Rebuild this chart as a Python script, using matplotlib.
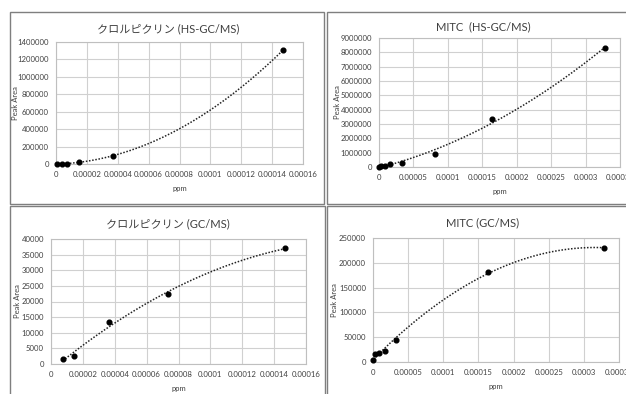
import matplotlib
matplotlib.use("Agg")
import matplotlib.pyplot as plt
import numpy as np
from matplotlib.patches import Rectangle
from matplotlib.ticker import FuncFormatter, MultipleLocator

plt.rcParams['font.family'] = ['Lato', 'Noto Sans CJK JP', 'DejaVu Sans']

# --- data ---
cp_hs_ppm = [0.0000007, 0.0000037, 0.0000073, 0.0000147, 0.0000367, 0.000147]
cp_hs_area = [500, 1500, 4000, 18000, 95000, 1305000]

mitc_hs_ppm = [0.0000004, 0.0000033, 0.0000082, 0.0000164, 0.0000328, 0.000082, 0.000164, 0.000328]
mitc_hs_area = [20000, 60000, 100000, 180000, 280000, 900000, 3330000, 8300000]

cp_gc_ppm = [0.0000073, 0.0000147, 0.0000367, 0.0000733, 0.000147]
cp_gc_area = [1500, 2700, 13300, 22500, 37000]

mitc_gc_ppm = [0.0000004, 0.0000033, 0.0000082, 0.0000164, 0.0000328, 0.000164, 0.000328]
mitc_gc_area = [5000, 16000, 18000, 23000, 43500, 181000, 230000]

titles = ['クロルピクリン (HS-GC/MS)', 'MITC  (HS-GC/MS)', 'クロルピクリン (GC/MS)', 'MITC (GC/MS)']

W, H = 626, 394
fig = plt.figure(figsize=(W / 100, H / 100), dpi=100)
fig.patch.set_facecolor('white')


def ax_px(x0, y0, x1, y1):
    return fig.add_axes([x0 / W, 1 - y1 / H, (x1 - x0) / W, (y1 - y0) / H])


def box(x0, y0, x1, y1):
    fig.patches.append(Rectangle((x0 / W, 1 - y1 / H), (x1 - x0) / W, (y1 - y0) / H,
                                 transform=fig.transFigure, fill=False,
                                 edgecolor='#7f7f7f', lw=1.0, zorder=0))


box(10, 12, 324, 204)
box(327, 12, 640, 204)
box(10, 206, 325, 400)
box(327, 206, 640, 400)


def fmt_x(v, pos):
    if abs(v) < 1e-12:
        return '0'
    return ('%.5f' % v).rstrip('0').rstrip('.')


def fmt_y(v, pos):
    return '%d' % round(v)


def panel(rect, x, y, xmax, xstep, ymax, ystep, title, tx, ty, xlab_y, ylab_x):
    ax = ax_px(*rect)
    ax.set_xlim(0, xmax)
    ax.set_ylim(0, ymax)
    ax.xaxis.set_major_locator(MultipleLocator(xstep))
    ax.yaxis.set_major_locator(MultipleLocator(ystep))
    ax.xaxis.set_major_formatter(FuncFormatter(fmt_x))
    ax.yaxis.set_major_formatter(FuncFormatter(fmt_y))
    ax.grid(True, color='#d0d0d0', lw=0.8)
    ax.set_axisbelow(True)
    for s in ax.spines.values():
        s.set_color('#bfbfbf')
        s.set_linewidth(0.8)
    ax.tick_params(length=0, labelsize=5.6, colors='#404040', pad=5)
    for lab in ax.get_xticklabels() + ax.get_yticklabels():
        lab.set_clip_on(False)
    # trendline (2nd-order polynomial fit of the data)
    xa = np.asarray(x)
    ya = np.asarray(y)
    c = np.polyfit(xa, ya, 2)
    xs = np.linspace(xa.min(), xa.max(), 200)
    ax.plot(xs, np.polyval(c, xs), color='#222222', lw=1.1, ls=(0, (1, 1.1)), zorder=2)
    ax.plot(xa, ya, 'o', color='black', ms=3.4, zorder=3, clip_on=False)
    fig.text(ylab_x / W, 1 - (rect[1] + rect[3]) / 2 / H, 'Peak Area', rotation=90,
             ha='center', va='center', fontsize=5.5, color='#404040')
    fig.text(tx / W, 1 - ty / H, title, ha='center', va='center', fontsize=8, color='#404040')
    fig.text((rect[0] + rect[2]) / 2 / W, 1 - xlab_y / H, 'ppm', ha='center', va='center',
             fontsize=5.5, color='#404040')
    return ax


panel((56, 42, 303, 164), cp_hs_ppm, cp_hs_area, 0.00016, 0.00002, 1400000, 200000,
      titles[0], 168, 29, 188, 16)
panel((379, 38, 620, 167), mitc_hs_ppm, mitc_hs_area, 0.00035, 0.00005, 9000000, 1000000,
      titles[1], 483, 27, 191, 338)
panel((51, 239, 306, 364), cp_gc_ppm, cp_gc_area, 0.00016, 0.00002, 40000, 5000,
      titles[2], 168, 224, 388, 18)
panel((373, 238, 619, 362), mitc_gc_ppm, mitc_gc_area, 0.00035, 0.00005, 250000, 50000,
      titles[3], 483, 223, 386, 334)

fig.savefig('out.png', dpi=100)
